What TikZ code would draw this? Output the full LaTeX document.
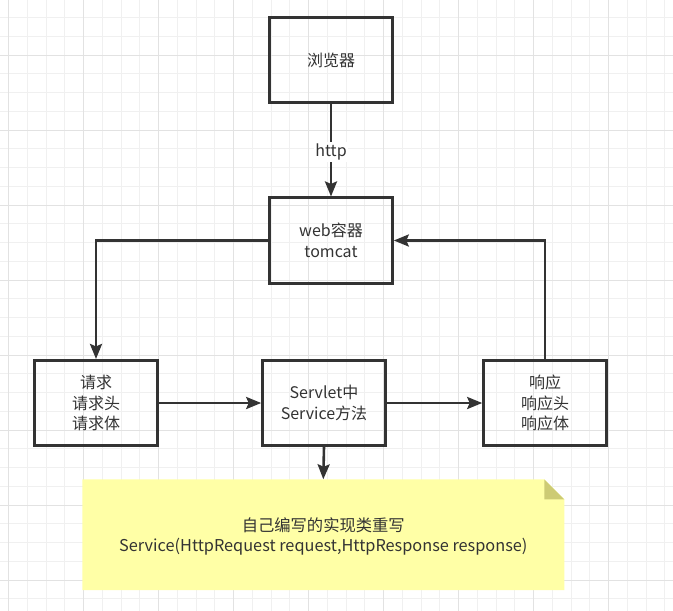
\documentclass[tikz,border=0pt]{standalone}
\usepackage{fontspec}
\setmainfont{Noto Sans CJK SC}
\usetikzlibrary{arrows.meta}
\definecolor{ink}{HTML}{333333}
\definecolor{gridminor}{HTML}{F0F0F0}
\definecolor{gridmajor}{HTML}{E2E2E2}
\definecolor{notefill}{HTML}{FFFFA6}
\definecolor{notefold}{HTML}{CDCB74}
\tikzset{
  boxnode/.style={draw=ink, line width=2.6pt, minimum width=123pt, minimum height=85.5pt, inner sep=0pt, align=center, text=ink, font=\fontsize{16}{20.5}\selectfont},
  conn/.style={draw=ink, line width=2.6pt, -{Stealth[length=15pt,width=12pt,inset=2.5pt]}},
  lbl/.style={fill=white, text=ink, inner sep=1.5pt, font=\fontsize{16}{20}\selectfont},
  notetext/.style={align=center, text=ink, inner sep=0pt, font=\fontsize{16.3}{20}\selectfont},
  minorline/.style={draw=gridminor, line width=1pt},
  majorline/.style={draw=gridmajor, line width=1pt}
}
\begin{document}
\begin{tikzpicture}[x=1pt,y=-1pt]
\useasboundingbox (0,0) rectangle (673,611);
\fill[white] (0,0) rectangle (673,611);
% grid
\foreach \k in {0,...,35} \draw[minorline] ({8.7+18.75*\k},0) -- ({8.7+18.75*\k},611);
\foreach \k in {1,...,32} \draw[minorline] (0,{-1.25+18.75*\k}) -- (673,{-1.25+18.75*\k});
\foreach \k in {0,...,8} \draw[majorline] ({8.7+75*\k},0) -- ({8.7+75*\k},611);
\foreach \k in {0,...,7} \draw[majorline] (0,{55+75*\k}) -- (673,{55+75*\k});
% note shape
\coordinate (nw) at (82.3,479.3);
\coordinate (fa) at (544.3,479.3);
\coordinate (fb) at (564.3,499.3);
\coordinate (fc) at (544.3,499.3);
\coordinate (se) at (564.3,590);
\coordinate (sw) at (82.3,590);
\coordinate (notetop) at (323.3,479.3);
\fill[notefill] (nw) -- (fa) -- (fb) -- (se) -- (sw) -- cycle;
\fill[notefold] (fa) -- (fb) -- (fc) -- cycle;
\node[notetext] (note) at (323.3,536.5) {自己编写的实现类重写\\Service(HttpRequest request,HttpResponse response)};
% boxes
\node[boxnode] (browser) at (331,60) {浏览器};
\node[boxnode] (web) at (331,240.5) {web容器\\tomcat};
\node[boxnode] (req) at (96,403) {请求\\请求头\\请求体};
\node[boxnode] (servlet) at (324,403) {Servlet中\\Service方法};
\node[boxnode] (resp) at (545,403) {响应\\响应头\\响应体};
% connectors
\draw[conn] (browser.south) -- node[lbl, pos=0.52] {http} (web.north);
\draw[conn] (web.west) -| (req.north);
\draw[conn] (req.east) -- (servlet.west);
\draw[conn] (servlet.east) -- (resp.west);
\draw[conn] (resp.north) |- (web.east);
\draw[conn] (servlet.south) -- (notetop);
\end{tikzpicture}
\end{document}
